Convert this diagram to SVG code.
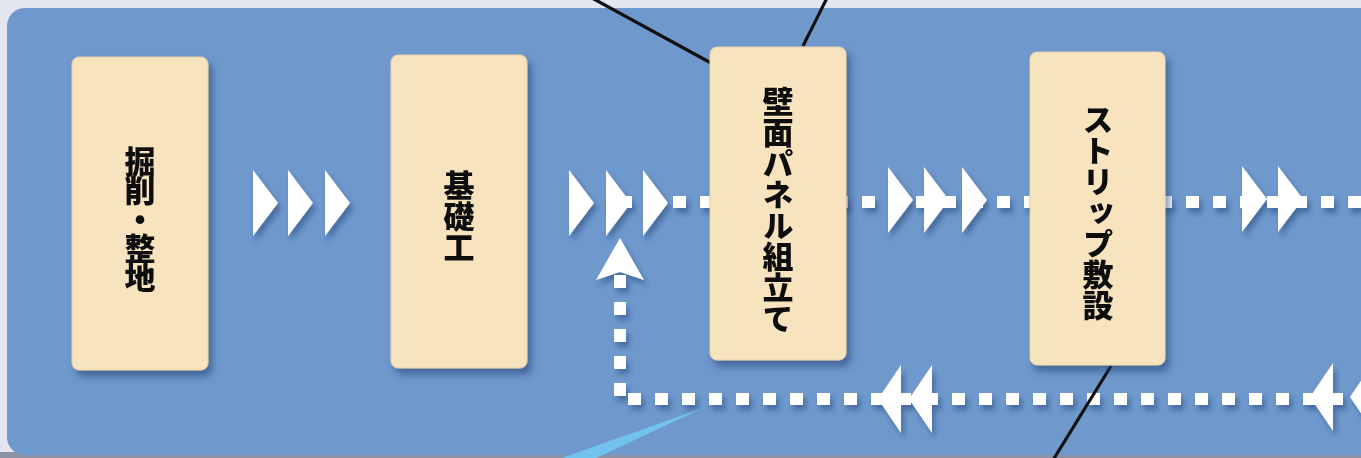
<svg xmlns="http://www.w3.org/2000/svg" width="1361" height="458" viewBox="0 0 1361 458">
  <defs>
    <filter id="sh" x="-20%" y="-20%" width="150%" height="150%">
      <feDropShadow dx="4" dy="6" stdDeviation="3.5" flood-color="#1f3d70" flood-opacity="0.55"/>
    </filter>
    <filter id="shs" x="-30%" y="-30%" width="160%" height="160%">
      <feDropShadow dx="3" dy="5" stdDeviation="2.5" flood-color="#1f3d70" flood-opacity="0.45"/>
    </filter>
    <polygon id="tr" points="0,-33 25,0 0,33"/>
    <polygon id="tl" points="0,0 23,-34 23,34"/>
  </defs>
  <style>
    .box { fill: #f7e3be; stroke: #e8d3a8; stroke-width: 1; }
    .lbl { font-family: "Noto Sans CJK JP", "Noto Sans", sans-serif; font-weight: 900; font-size: 31px; fill: #111; writing-mode: vertical-rl; text-anchor: middle; }
    .dash { stroke: #ffffff; stroke-width: 12; fill: none; stroke-dasharray: 13 14; }
    .arr { fill: #ffffff; }
    .lead { stroke: #111; stroke-width: 3.2; fill: none; }
  </style>

  <!-- background -->
  <rect x="0" y="0" width="1361" height="458" fill="#e3e6f0"/>
  <rect x="0" y="452" width="1361" height="6" fill="#8a93a6"/>
  <rect x="7" y="8" width="1380" height="447" rx="18" fill="#6f98cd"/>

  <!-- connectors -->
  <g id="connectors">
    <g filter="url(#shs)">
      <line class="dash" x1="619" y1="202" x2="1361" y2="202"/>
      <line class="dash" x1="620" y1="275" x2="620" y2="396"/>
      <line class="dash" x1="628" y1="399" x2="1361" y2="399"/>
      <g class="arr">
        <use href="#tr" x="253" y="203"/>
        <use href="#tr" x="288" y="203"/>
        <use href="#tr" x="325" y="203"/>
        <use href="#tr" x="569" y="203"/>
        <use href="#tr" x="606" y="203"/>
        <use href="#tr" x="643" y="203"/>
        <use href="#tr" x="888" y="200"/>
        <use href="#tr" x="924" y="200"/>
        <use href="#tr" x="962" y="200"/>
        <use href="#tr" x="1242" y="199"/>
        <use href="#tr" x="1278" y="199"/>
        <use href="#tl" x="878" y="399"/>
        <use href="#tl" x="909" y="399"/>
        <use href="#tl" x="1310" y="397"/>
        <use href="#tl" x="1350" y="397"/>
        <polygon points="620,238 644,280 620,272 596,280"/>
      </g>
    </g>
    <line class="lead" x1="592" y1="-2" x2="711" y2="63"/>
    <line class="lead" x1="827" y1="-2" x2="803" y2="46"/>
    <line class="lead" x1="1111" y1="366" x2="1053" y2="460"/>
    <polygon points="703,408 592,460 556,460" fill="#72c2ee"/>
  </g>

  <!-- nodes -->
  <g id="n1" filter="url(#sh)">
    <rect class="box" x="72" y="57" width="136" height="313" rx="7"/>
    <text class="lbl" x="140" y="218" style="letter-spacing:-2px">掘削・整地</text>
  </g>
  <g id="n2" filter="url(#sh)">
    <rect class="box" x="391" y="55" width="136" height="313" rx="7"/>
    <text class="lbl" x="459" y="216">基礎工</text>
  </g>
  <g id="n3" filter="url(#sh)">
    <rect class="box" x="710" y="47" width="136" height="313" rx="7"/>
    <text class="lbl" x="778" y="210">壁面パネル組立て</text>
  </g>
  <g id="n4" filter="url(#sh)">
    <rect class="box" x="1030" y="52" width="135" height="313" rx="7"/>
    <text class="lbl" x="1098" y="212">ストリップ敷設</text>
  </g>
</svg>
